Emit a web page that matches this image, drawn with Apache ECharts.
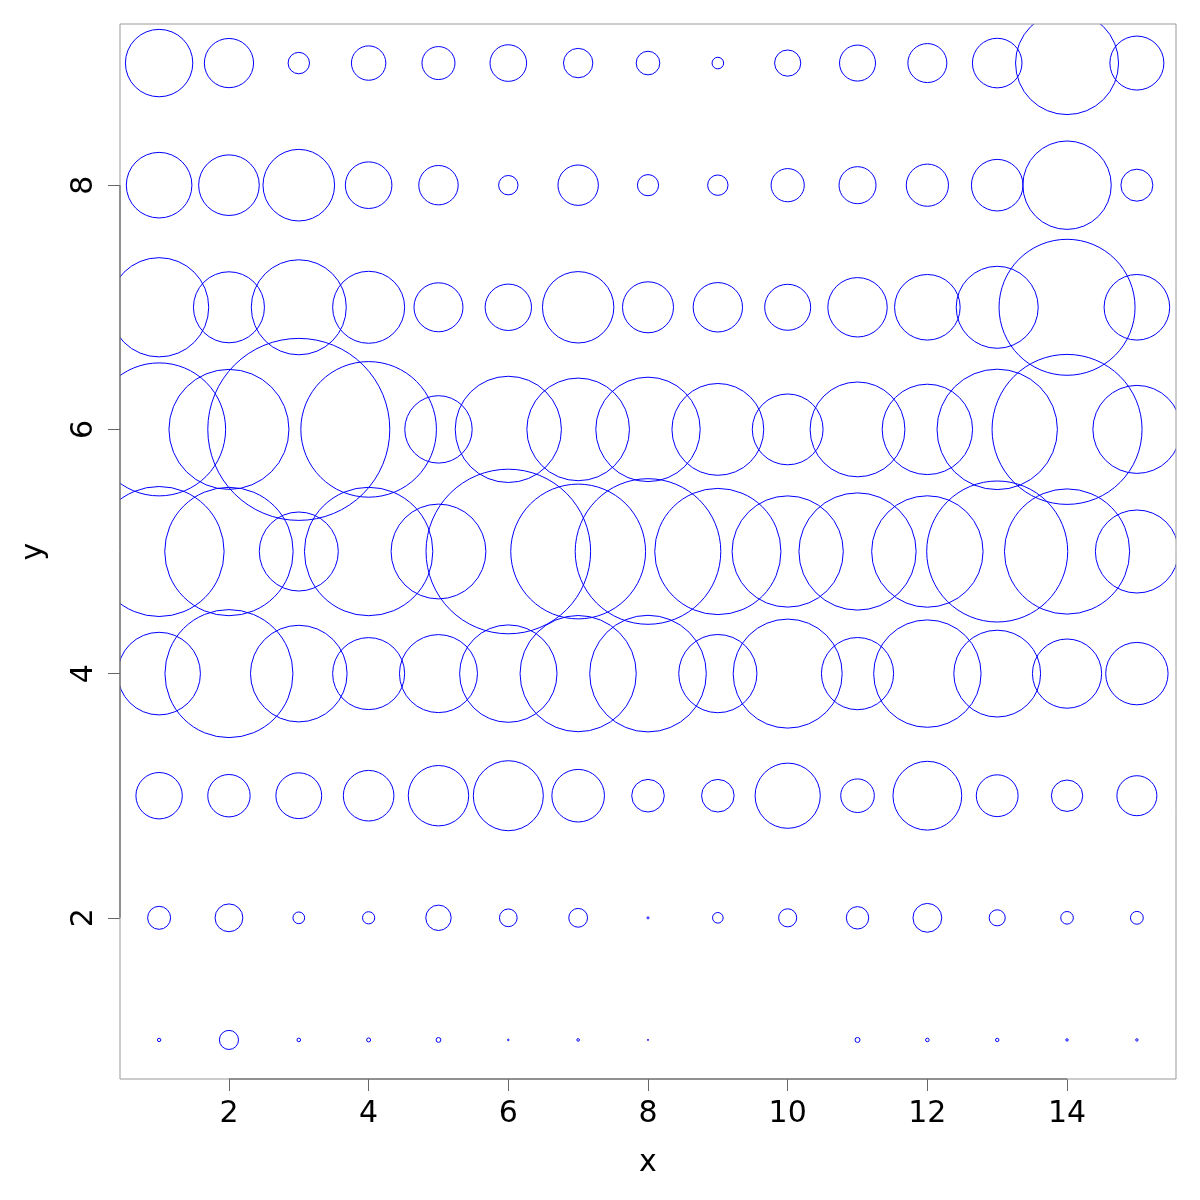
<!DOCTYPE html>
<html><head><meta charset="utf-8">
<script src="https://cdn.jsdelivr.net/npm/echarts@6/dist/echarts.min.js"></script>
<style>html,body{margin:0;padding:0;background:#fff}#c{width:1200px;height:1200px}</style>
</head><body><div id="c"></div>
<script>
// column positions (x) and row positions (y)
const xValues = [1,2,3,4,5,6,7,8,9,10,11,12,13,14,15];
const yValues = [1,2,3,4,5,6,7,8,9];
// circle sizes (radius values) per row
const row1 = [1.7, 9.55, 1.8, 2, 2.4, 0.8, 1.3, 0.6, 0, 0, 2.5, 1.8, 1.7, 1.2, 1.2];
const row2 = [11.5, 13.9, 5.85, 6.1, 12.7, 8.85, 9.4, 1, 5.3, 9.05, 11.2, 14.4, 8.05, 6.3, 6.4];
const row3 = [23.2, 21.2, 22.9, 25.3, 30.2, 35, 26.3, 16.3, 16.3, 32.6, 16.8, 34.4, 20.9, 15.7, 20];
const row4 = [41.3, 64, 48.3, 36, 39, 48.7, 58.1, 58.3, 39.1, 54.5, 36.1, 53.7, 43.4, 34.6, 31.2];
const row5 = [65, 64.2, 39.5, 64.2, 47.4, 82.3, 67.4, 72.8, 63.1, 55.6, 58.6, 55.7, 70.5, 62.6, 41.5];
const row6 = [66.5, 60, 91, 67.8, 33.7, 53.1, 51.3, 52.2, 45.9, 35.4, 47.4, 45.2, 60.2, 75, 44];
const row7 = [49.6, 35.5, 47.5, 36, 24.5, 23.2, 35.7, 25.5, 24.7, 23, 29.7, 32.8, 41, 68, 32.8];
const row8 = [32.8, 30.3, 35.8, 23.3, 19.7, 9.7, 20.2, 10.6, 10.2, 16.6, 18.5, 21.1, 25.8, 44.2, 16];
const row9 = [33.7, 24.6, 10.7, 17.2, 16.5, 18.3, 14.7, 11.8, 5.8, 13.1, 18, 19.5, 24.8, 51.5, 27];
const xTicks = [2,4,6,8,10,12,14];
const yTicks = [2,4,6,8];

const rows = [row1,row2,row3,row4,row5,row6,row7,row8,row9];
const X_MIN = 0.44, X_MAX = 15.56, Y_MIN = 0.68, Y_MAX = 9.32;
const PX_PER_UNIT = 1;

const circleData = [];
rows.forEach((row, i) => {
  row.forEach((v, j) => { if (v > 0) circleData.push([xValues[j], yValues[i], v]); });
});

const FONT = 'DejaVu Sans';
const chart = echarts.init(document.getElementById('c'), null, {renderer:'canvas'});
chart.setOption({
  animation: false,
  backgroundColor: '#fff',
  grid: {left:120, top:24, width:1056, height:1055, show:true, borderColor:'#999', borderWidth:1, z:10},
  xAxis: {
    type:'value', min:X_MIN, max:X_MAX,
    name:'x', nameLocation:'middle', nameGap:69,
    nameTextStyle:{fontFamily:FONT, fontSize:30, color:'#000'},
    axisLine:{show:false},
    splitLine:{show:false},
    axisTick:{show:true, length:12, lineStyle:{color:'#666', width:1}, customValues:xTicks},
    axisLabel:{show:true, margin:20, fontFamily:FONT, fontSize:30, color:'#000', customValues:xTicks}
  },
  yAxis: {
    type:'value', min:Y_MIN, max:Y_MAX,
    name:'y', nameLocation:'middle', nameGap:71,
    nameTextStyle:{fontFamily:FONT, fontSize:30, color:'#000'},
    axisLine:{show:false},
    splitLine:{show:false},
    axisTick:{show:true, length:12, lineStyle:{color:'#666', width:1}, customValues:yTicks},
    axisLabel:{show:true, margin:21, rotate:90, fontFamily:FONT, fontSize:30, color:'#000', customValues:yTicks}
  },
  series: [
    {
      type:'custom', clip:true, z:2,
      data: circleData,
      renderItem(params, api) {
        const p = api.coord([api.value(0), api.value(1)]);
        const r = api.value(2) * PX_PER_UNIT;
        return {type:'circle', shape:{cx:p[0], cy:p[1], r:r},
          style:{fill:'none', stroke:'#0000ff', lineWidth:1}};
      }
    },
    {
      type:'line', clip:false, z:20, symbol:'none', silent:true,
      data:[[xTicks[0], Y_MIN],[xTicks[xTicks.length-1], Y_MIN]],
      lineStyle:{color:'#555', width:1}
    },
    {
      type:'line', clip:false, z:20, symbol:'none', silent:true,
      data:[[X_MIN, yTicks[0]],[X_MIN, yTicks[yTicks.length-1]]],
      lineStyle:{color:'#555', width:1}
    }
  ]
});
</script></body></html>
